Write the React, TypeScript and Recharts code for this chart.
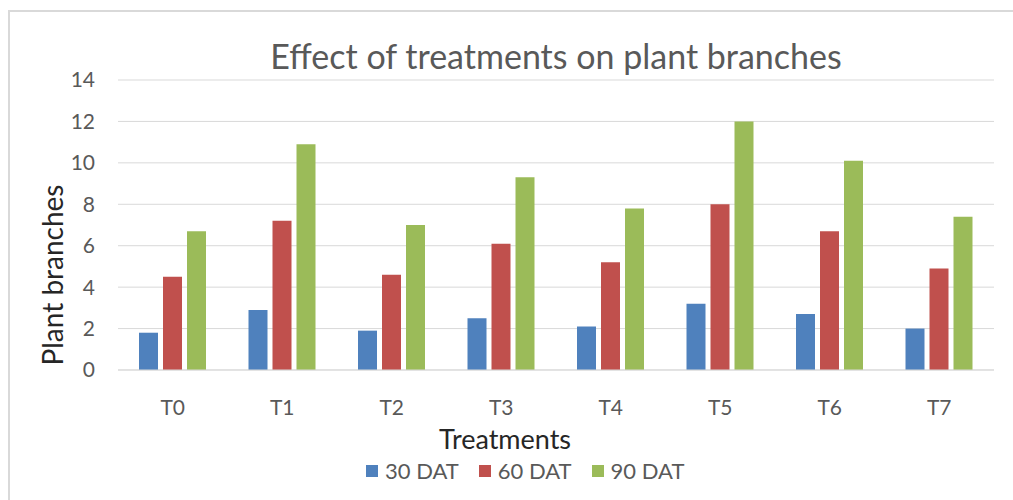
import React from 'react';
import { BarChart, Bar, XAxis, YAxis, CartesianGrid, Legend, Label } from 'recharts';

const treatments = ['T0', 'T1', 'T2', 'T3', 'T4', 'T5', 'T6', 'T7'];
const dat30 = [1.8, 2.9, 1.9, 2.5, 2.1, 3.2, 2.7, 2.0];
const dat60 = [4.5, 7.2, 4.6, 6.1, 5.2, 8.0, 6.7, 4.9];
const dat90 = [6.7, 10.9, 7.0, 9.3, 7.8, 12.0, 10.1, 7.4];
const yTicks = [0, 2, 4, 6, 8, 10, 12, 14];

const FONT = 'Lato, "Open Sans", sans-serif';
const GREY = '#595959';

const data = treatments.map((t, i) => ({
  name: t,
  d30: dat30[i],
  d60: dat60[i],
  d90: dat90[i],
}));

// Excel-ish legend: small squares, roomy spacing
const renderLegend = (props: any) => {
  const { payload } = props;
  return (
    <div style={{ display: 'flex', justifyContent: 'flex-start', fontFamily: FONT, fontSize: 22, lineHeight: '20px', color: GREY }}>
      {payload.map((entry: any) => (
        <div key={entry.value} style={{ display: 'flex', alignItems: 'center', marginRight: 20 }}>
          <span style={{ width: 12, height: 12, background: entry.color, display: 'inline-block', marginRight: 7 }} />
          <span>{entry.value}</span>
        </div>
      ))}
    </div>
  );
};

export default function App() {
  return (
    <div style={{ position: 'absolute', left: 0, top: 0, width: 1013, height: 500, background: '#fff', overflow: 'hidden' }}>
      <div
        style={{
          position: 'absolute',
          left: 8,
          top: 10,
          width: 1013,
          height: 520,
          border: '2px solid #d9d9d9',
          boxSizing: 'border-box',
        }}
      />
      <div
        style={{
          position: 'absolute',
          top: 39,
          left: 118,
          width: 876,
          textAlign: 'center',
          fontFamily: FONT,
          fontSize: 34,
          lineHeight: '34px',
          color: GREY,
        }}
      >
        Effect of treatments on plant branches
      </div>
      <BarChart
        width={1013}
        height={500}
        data={data}
        margin={{ top: 80, right: 19, bottom: 0, left: 0 }}
        barSize={19}
        barGap={5}
      >
        <CartesianGrid vertical={false} stroke="#d9d9d9" />
        <XAxis
          dataKey="name"
          height={110}
          axisLine={{ stroke: '#d9d9d9' }}
          tickLine={false}
          tickMargin={24}
          tick={{ fill: GREY, fontSize: 21, fontFamily: FONT }}
        >
          <Label
            content={(p: any) => {
              const vb = p.viewBox;
              return (
                <text
                  x={vb.x + vb.width / 2 - 51}
                  y={vb.y + 79}
                  textAnchor="middle"
                  fill="#262626"
                  fontSize={27}
                  fontFamily={FONT}
                >
                  Treatments
                </text>
              );
            }}
          />
        </XAxis>
        <YAxis
          width={118}
          domain={[0, 14]}
          ticks={yTicks}
          interval={0}
          axisLine={false}
          tickLine={false}
          tickMargin={17}
          tick={{ fill: GREY, fontSize: 21, fontFamily: FONT }}
        >
          <Label
            content={(p: any) => {
              const vb = p.viewBox;
              const x = 63;
              const y = vb.y + vb.height / 2 + 50;
              return (
                <text
                  x={x}
                  y={y}
                  transform={`rotate(-90, ${x}, ${y})`}
                  textAnchor="middle"
                  fill="#262626"
                  fontSize={28}
                  fontFamily={FONT}
                >
                  Plant branches
                </text>
              );
            }}
          />
        </YAxis>
        <Legend
          content={renderLegend}
          wrapperStyle={{ position: 'absolute', left: 366, top: 461, width: 380, height: 20 }}
        />
        <Bar dataKey="d30" name="30 DAT" fill="#4F81BD" isAnimationActive={false} />
        <Bar dataKey="d60" name="60 DAT" fill="#C0504D" isAnimationActive={false} />
        <Bar dataKey="d90" name="90 DAT" fill="#9BBB59" isAnimationActive={false} />
      </BarChart>
    </div>
  );
}
